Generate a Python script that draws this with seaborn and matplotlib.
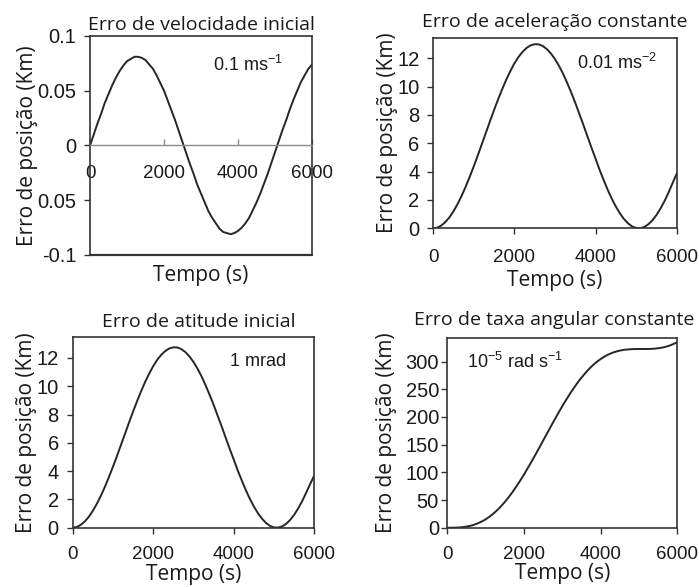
import numpy as np
import pandas as pd
import matplotlib
matplotlib.use("Agg")
import matplotlib.pyplot as plt
import seaborn as sns

# --- Dados (passo de 100 s) ---
tempo_s = list(range(0, 6001, 100))

erro_velocidade = [0.000, 0.010, 0.020, 0.029, 0.039, 0.047, 0.055, 0.062, 0.068, 0.073,
                   0.077, 0.079, 0.081, 0.081, 0.080, 0.078, 0.074, 0.070, 0.064, 0.057,
                   0.050, 0.041, 0.032, 0.023, 0.013, 0.003, -0.007, -0.017, -0.026, -0.036,
                   -0.044, -0.052, -0.060, -0.066, -0.071, -0.076, -0.079, -0.080, -0.081, -0.080,
                   -0.078, -0.075, -0.071, -0.066, -0.059, -0.052, -0.044, -0.035, -0.026, -0.016,
                   -0.006, 0.004, 0.014, 0.023, 0.033, 0.042, 0.050, 0.058, 0.064, 0.070,
                   0.074]

erro_aceleracao = [0.00, 0.05, 0.20, 0.45, 0.78, 1.21, 1.72, 2.30, 2.95, 3.65,
                   4.39, 5.17, 5.97, 6.77, 7.58, 8.36, 9.12, 9.83, 10.50, 11.10,
                   11.64, 12.09, 12.45, 12.73, 12.91, 12.99, 12.98, 12.86, 12.64, 12.33,
                   11.94, 11.45, 10.90, 10.26, 9.58, 8.85, 8.07, 7.29, 6.48, 5.68,
                   4.91, 4.12, 3.40, 2.71, 2.08, 1.53, 1.05, 0.65, 0.35, 0.13,
                   0.02, 0.01, 0.09, 0.28, 0.56, 0.93, 1.39, 1.92, 2.53, 3.20,
                   3.85]

erro_atitude = [0.00, 0.05, 0.20, 0.44, 0.77, 1.19, 1.69, 2.26, 2.89, 3.58,
                4.31, 5.07, 5.86, 6.64, 7.44, 8.21, 8.95, 9.65, 10.31, 10.89,
                11.42, 11.87, 12.22, 12.49, 12.67, 12.75, 12.74, 12.62, 12.41, 12.10,
                11.72, 11.24, 10.70, 10.07, 9.40, 8.69, 7.92, 7.16, 6.36, 5.57,
                4.82, 4.04, 3.34, 2.66, 2.04, 1.50, 1.03, 0.64, 0.34, 0.13,
                0.02, 0.01, 0.09, 0.27, 0.55, 0.91, 1.36, 1.88, 2.48, 3.10,
                3.70]

erro_taxa_angular = [0.0, 0.0, 0.1, 0.4, 1.0, 2.0, 3.4, 5.4, 8.0, 11.2,
                     15.1, 19.8, 25.3, 31.5, 38.6, 46.4, 54.9, 64.2, 74.2, 84.8,
                     95.9, 107.6, 119.6, 131.9, 144.5, 157.2, 169.9, 182.6, 195.1, 207.4,
                     219.3, 230.7, 241.7, 252.1, 261.8, 270.8, 279.1, 286.7, 293.4, 299.4,
                     304.5, 308.9, 312.6, 315.6, 317.9, 319.7, 321.0, 321.8, 322.3, 322.5,
                     322.6, 322.6, 322.6, 322.8, 323.2, 323.9, 325.0, 326.6, 328.8, 331.6,
                     335.0]

titulos = ['Erro de velocidade inicial', 'Erro de aceleração constante',
           'Erro de atitude inicial', 'Erro de taxa angular constante']
anotacoes = ['0.1 ms$^{-1}$', '0.01 ms$^{-2}$', '1 mrad', '10$^{-5}$ rad s$^{-1}$']

xticks = [0, 2000, 4000, 6000]
yticks_vel = [-0.1, -0.05, 0, 0.05, 0.1]
ylabels_vel = ['-0.1', '0.05', '0', '0.05', '0.1']
yticks_km = [0, 2, 4, 6, 8, 10, 12]
yticks_taxa = [0, 50, 100, 150, 200, 250, 300]

# --- Estilo ---
sns.set_theme(style="ticks")
plt.rcParams['font.family'] = ['Liberation Sans', 'DejaVu Sans']
plt.rcParams['mathtext.fontset'] = 'custom'
plt.rcParams['mathtext.rm'] = 'Liberation Sans'
plt.rcParams['mathtext.it'] = 'Liberation Sans'

FONTE_TEXTO = ['Open Sans', 'DejaVu Sans']
COR_TEXTO = '#1a1a1a'
COR_LINHA = '#262626'
COR_EIXO = '#333333'

fig = plt.figure(figsize=(6.99, 5.87), dpi=100)
fig.patch.set_facecolor('white')

posicoes = [
    [0.1288, 0.5656, 0.3176, 0.3731],
    [0.6199, 0.6111, 0.3482, 0.3247],
    [0.1040, 0.1010, 0.3456, 0.3254],
    [0.6399, 0.1010, 0.3290, 0.3237],
]
series = [erro_velocidade, erro_aceleracao, erro_atitude, erro_taxa_angular]
ylims = [(-0.1, 0.1), (0, 13.45), (0, 13.5), (0, 343)]
ylabel_x = [-0.234, -0.145, -0.146, -0.217]
xlabel_y = [-0.046, -0.219, -0.19, -0.185]
title_pad = [4, 8, 7, 9]
title_x = [0.5, 0.5, 0.523, 0.464]
anot_pos = [(0.554, 0.868), (0.59, 0.867), (0.651, 0.868), (0.086, 0.872)]

for i in range(4):
    ax = fig.add_axes(posicoes[i])
    ax.set_facecolor('white')
    df = pd.DataFrame({'tempo': tempo_s, 'erro': series[i]})
    sns.lineplot(data=df, x='tempo', y='erro', ax=ax, color=COR_LINHA, linewidth=1.4)

    ax.set_xlim(0, 6000)
    ax.set_ylim(*ylims[i])
    ax.set_xticks(xticks)
    ax.set_xticklabels([str(t) for t in xticks])

    if i == 0:
        ax.set_yticks(yticks_vel)
        ax.set_yticklabels(ylabels_vel)
    elif i == 3:
        ax.set_yticks(yticks_taxa)
        ax.set_yticklabels([str(v) for v in yticks_taxa])
    else:
        ax.set_yticks(yticks_km)
        ax.set_yticklabels([str(v) for v in yticks_km])

    for s in ['left', 'right', 'top', 'bottom']:
        ax.spines[s].set_visible(True)
        ax.spines[s].set_color(COR_EIXO)
        ax.spines[s].set_linewidth(1.2)

    ax.tick_params(axis='y', direction='out', length=4, width=1, colors=COR_EIXO,
                   labelcolor=COR_TEXTO, labelsize=14.5, pad=6 if i != 3 else 2)

    if i == 0:
        # eixo x cruzando no zero, com moldura completa
        ax.spines['bottom'].set_position(('data', 0))
        ax.spines['bottom'].set_color('#8c8c8c')
        ax.spines['bottom'].set_linewidth(1.0)
        ax.axhline(-0.1, color=COR_EIXO, linewidth=1.6, clip_on=False)
        ax.tick_params(axis='x', direction='in', length=4, width=1, colors='#8c8c8c',
                       labelcolor=COR_TEXTO, labelsize=13.5, pad=14)
    else:
        ax.tick_params(axis='x', direction='out', length=4, width=1, colors=COR_EIXO,
                       labelcolor=COR_TEXTO, labelsize=13.5, pad=11 if i == 1 else 9)

    ax.set_title(titulos[i], fontsize=14, family=FONTE_TEXTO, color=COR_TEXTO,
                 pad=title_pad[i], x=title_x[i])
    ax.set_ylabel('Erro de posição (Km)', fontsize=15, family=FONTE_TEXTO, color=COR_TEXTO)
    ax.set_xlabel('Tempo (s)', fontsize=15, family=FONTE_TEXTO, color=COR_TEXTO)
    ax.yaxis.set_label_coords(ylabel_x[i], 0.5)
    ax.xaxis.set_label_coords(0.5, xlabel_y[i])

    ax.text(anot_pos[i][0], anot_pos[i][1], anotacoes[i], transform=ax.transAxes,
            fontsize=13, color=COR_TEXTO, ha='left', va='center')

fig.savefig('out.png', dpi=100, facecolor='white')
plt.close(fig)
